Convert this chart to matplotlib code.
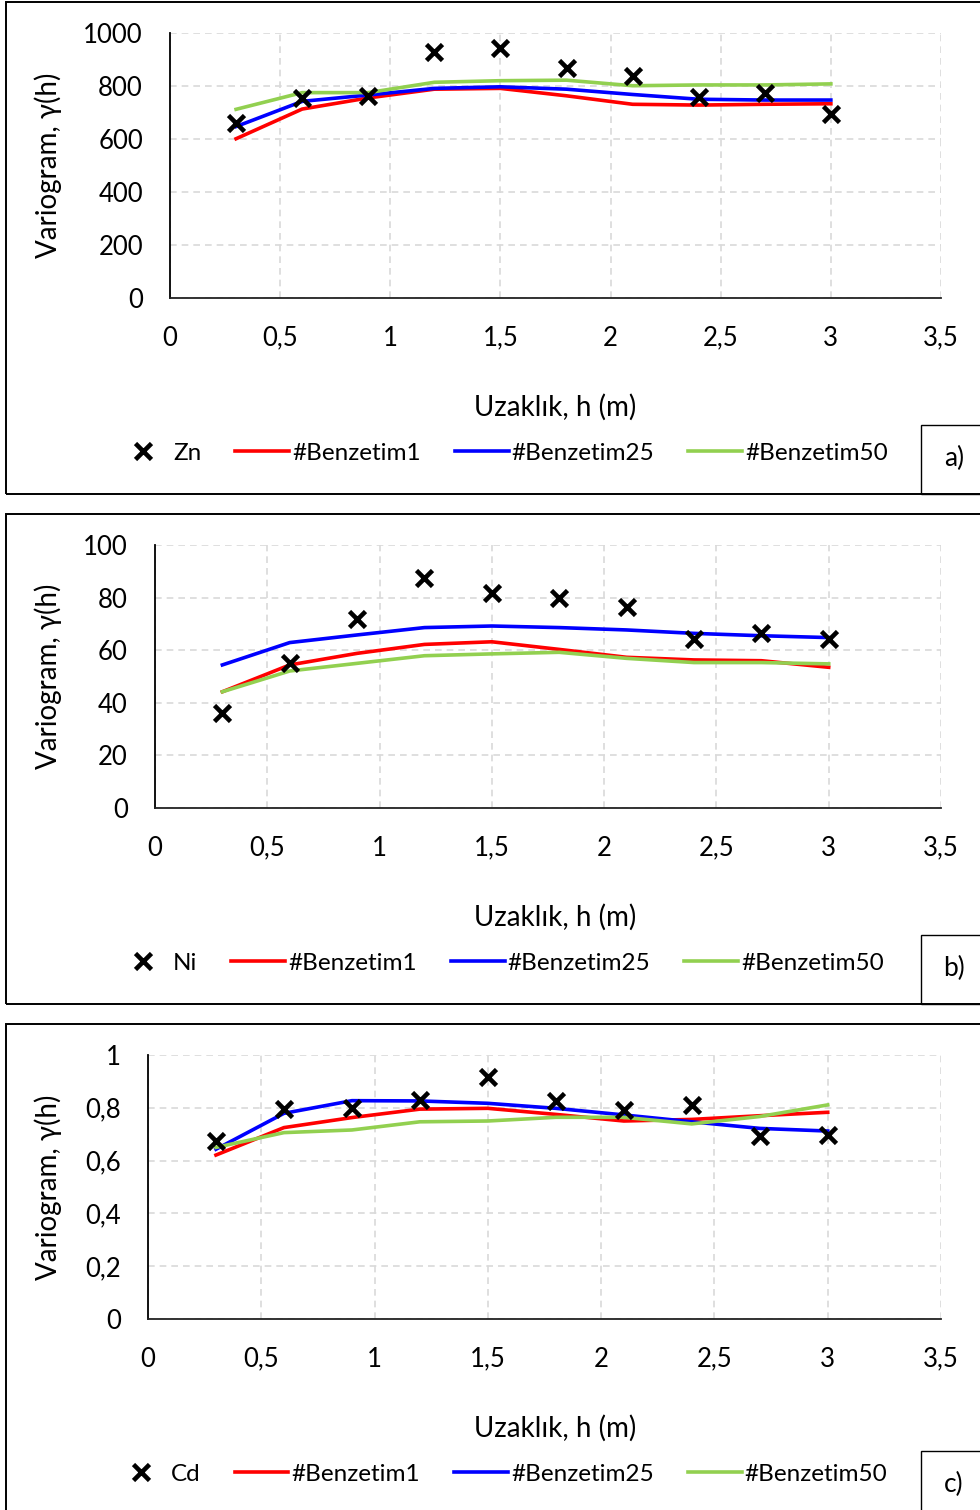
import matplotlib.pyplot as plt
from matplotlib.patches import Rectangle
from matplotlib.lines import Line2D

plt.rcParams['font.family'] = ['Lato', 'DejaVu Sans']

# distances (m)
h = [0.3, 0.6, 0.9, 1.2, 1.5, 1.8, 2.1, 2.4, 2.7, 3.0]

# a) Zn
zn_obs = [659, 755, 763, 930, 945, 867, 838, 757, 773, 695]
zn_b1 = [601, 713, 755, 788, 791, 763, 731, 728, 731, 733]
zn_b25 = [647, 742, 766, 791, 797, 788, 768, 750, 747, 747]
zn_b50 = [712, 775, 775, 814, 820, 822, 801, 804, 804, 808]

# b) Ni
ni_obs = [36.0, 55.0, 71.9, 87.3, 81.6, 79.7, 76.3, 64.1, 66.4, 64.1]
ni_b1 = [44.2, 54.4, 58.8, 62.2, 63.2, 60.3, 57.3, 56.3, 56.0, 53.5]
ni_b25 = [54.4, 62.9, 65.8, 68.6, 69.2, 68.6, 67.7, 66.4, 65.5, 64.8]
ni_b50 = [44.2, 52.1, 55.0, 57.9, 58.6, 59.2, 56.9, 55.3, 55.3, 54.8]

# c) Cd
cd_obs = [0.674, 0.795, 0.800, 0.830, 0.915, 0.824, 0.792, 0.811, 0.693, 0.697]
cd_b1 = [0.621, 0.725, 0.763, 0.795, 0.798, 0.775, 0.750, 0.756, 0.770, 0.783]
cd_b25 = [0.643, 0.779, 0.827, 0.826, 0.817, 0.798, 0.773, 0.747, 0.722, 0.712]
cd_b50 = [0.650, 0.706, 0.716, 0.747, 0.750, 0.764, 0.764, 0.739, 0.767, 0.811]

x_ticks = [0, 0.5, 1, 1.5, 2, 2.5, 3, 3.5]
x_labels = ['0', '0,5', '1', '1,5', '2', '2,5', '3', '3,5']
y_ticks_a = [0, 200, 400, 600, 800, 1000]
y_ticks_b = [0, 20, 40, 60, 80, 100]
y_ticks_c = [0, 0.2, 0.4, 0.6, 0.8, 1.0]
y_labels_c = ['0', '0,2', '0,4', '0,6', '0,8', '1']

W, H = 980, 1510
fig = plt.figure(figsize=(W / 100, H / 100), dpi=100)


def fx(px):
    return px / W


def fy(py):
    return 1 - py / H


panels = [
    # obs, b1, b25, b50, name, yticks, ylabels, axes box (l, t, r, b), panel box (t, b), letter
    (zn_obs, zn_b1, zn_b25, zn_b50, 'Zn', y_ticks_a, [str(v) for v in y_ticks_a],
     (170, 33, 941, 298), (2, 494), 'a)', 116),
    (ni_obs, ni_b1, ni_b25, ni_b50, 'Ni', y_ticks_b, [str(v) for v in y_ticks_b],
     (155, 545, 941, 808), (514, 1004), 'b)', 116),
    (cd_obs, cd_b1, cd_b25, cd_b50, 'Cd', y_ticks_c, y_labels_c,
     (148, 1055, 941, 1319), (1024, 1520), 'c)', 114),
]

for obs, b1, b25, b50, name, yt, yl, box, pbox, letter, leg_x in panels:
    l, t, r, b = box
    ax = fig.add_axes([fx(l), fy(b), fx(r) - fx(l), fy(t) - fy(b)])
    ax.plot(h, b1, color='#FF0000', lw=2.6, zorder=3)
    ax.plot(h, b25, color='#0000FF', lw=2.6, zorder=3)
    ax.plot(h, b50, color='#92D050', lw=2.6, zorder=3)
    ax.plot(h, obs, 'x', color='black', ms=11, mew=3.3, zorder=4)
    ax.set_xlim(0, 3.5)
    ax.set_ylim(yt[0], yt[-1])
    ax.set_xticks(x_ticks)
    ax.set_xticklabels(x_labels)
    ax.set_yticks(yt)
    ax.set_yticklabels(yl)
    ax.tick_params(length=0, labelsize=18.5, colors='black')
    ax.tick_params(axis='x', pad=20)
    ax.tick_params(axis='y', pad=19.5)
    ax.grid(True, color='#D9D9D9', linestyle=(0, (4, 3)), lw=1.2)
    ax.set_axisbelow(True)
    for s in ['top', 'right']:
        ax.spines[s].set_visible(False)
    ax.spines['left'].set_linewidth(1.3)
    ax.spines['bottom'].set_linewidth(1.3)
    ax.spines['bottom'].set_color('#222222')

    top, bot = pbox
    fig.add_artist(Rectangle((fx(6), fy(bot)), fx(990) - fx(6), fy(top) - fy(bot),
                             transform=fig.transFigure, fill=False, ec='black', lw=1.4))
    fig.text(fx(48), fy((t + b) / 2), 'Variogram, \u03b3(h)', rotation=90,
             ha='center', va='center', fontsize=20)
    fig.text(fx(555), fy(b + 109), 'Uzakl\u0131k, h (m)', ha='center', va='center', fontsize=20)

    # label box at the bottom right
    fig.add_artist(Rectangle((fx(921), fy(bot)), fx(990) - fx(921), fy(bot - 69) - fy(bot),
                             transform=fig.transFigure, fill=False, ec='black', lw=1.0))
    fig.text(fx(954), fy(bot - 36), letter, ha='center', va='center', fontsize=19)

    handles = [
        Line2D([], [], marker='x', ls='none', color='black', ms=11, mew=3.3),
        Line2D([], [], color='#FF0000', lw=2.6),
        Line2D([], [], color='#0000FF', lw=2.6),
        Line2D([], [], color='#92D050', lw=2.6),
    ]
    fig.legend(handles, [name, '#Benzetim1', '#Benzetim25', '#Benzetim50'],
               loc='center left', bbox_to_anchor=(fx(leg_x), fy(b + 155)),
               ncol=4, frameon=False, fontsize=17.5, handlelength=2.22,
               handletextpad=0.12, columnspacing=1.4, borderpad=0, borderaxespad=0)

fig.savefig('out.png', dpi=100)
